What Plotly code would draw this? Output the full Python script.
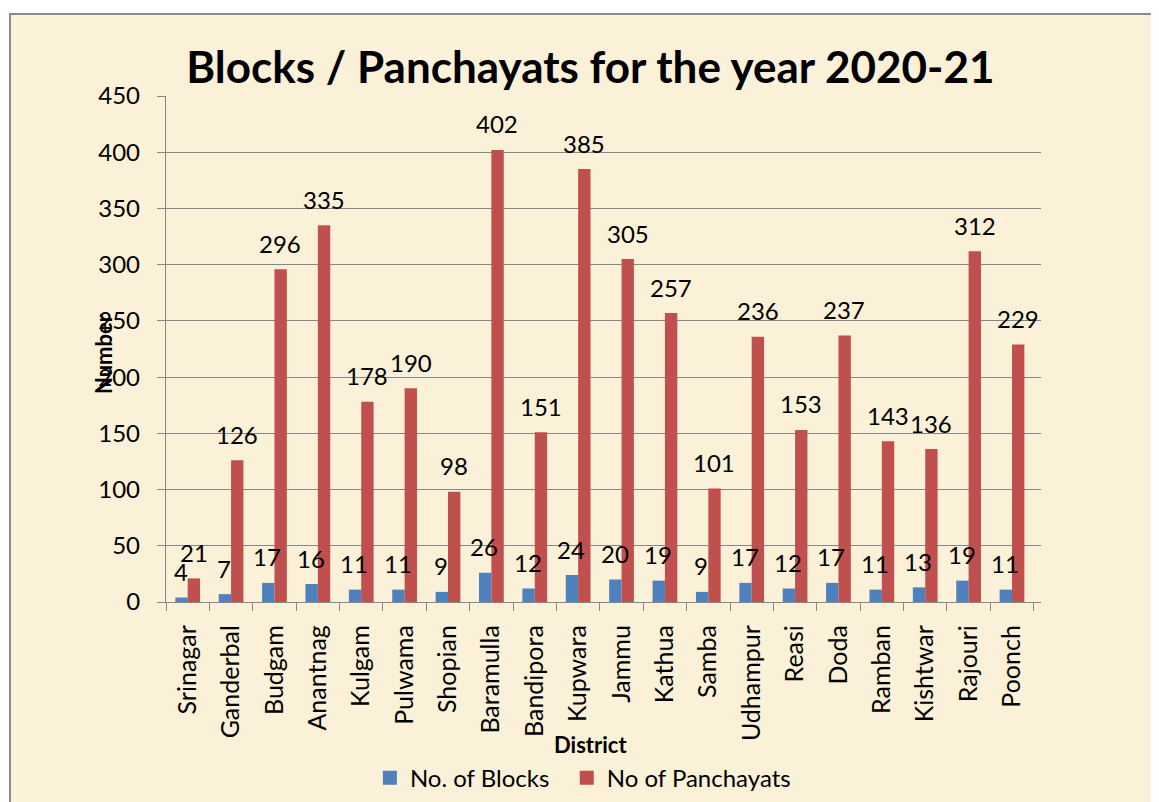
import plotly.graph_objects as go

districts = ["Srinagar", "Ganderbal", "Budgam", "Anantnag", "Kulgam", "Pulwama", "Shopian",
             "Baramulla", "Bandipora", "Kupwara", "Jammu", "Kathua", "Samba", "Udhampur",
             "Reasi", "Doda", "Ramban", "Kishtwar", "Rajouri", "Poonch"]
blocks = [4, 7, 17, 16, 11, 11, 9, 26, 12, 24, 20, 19, 9, 17, 12, 17, 11, 13, 19, 11]
panchayats = [21, 126, 296, 335, 178, 190, 98, 402, 151, 385, 305, 257, 101, 236, 153, 237, 143, 136, 312, 229]
y_ticks = [0, 50, 100, 150, 200, 250, 300, 350, 400, 450]

FONT = "Lato"
BG = "#FBF0D8"
GRID = "#878787"
BLUE = "#4F81BD"
RED = "#C0504D"

fig = go.Figure()
fig.add_trace(go.Bar(x=districts, y=blocks, name="No. of Blocks", marker_color=BLUE,
                     marker_line_width=0, showlegend=False))
fig.add_trace(go.Bar(x=districts, y=panchayats, name="No of Panchayats", marker_color=RED,
                     marker_line_width=0, showlegend=False))
# legend-only entries with square swatches
fig.add_trace(go.Scatter(x=[None], y=[None], mode="markers", name="No. of Blocks",
                         marker=dict(symbol="square", size=14, color=BLUE), legend="legend"))
fig.add_trace(go.Scatter(x=[None], y=[None], mode="markers", name="No of Panchayats",
                         marker=dict(symbol="square", size=14, color=RED), legend="legend2"))

annotations = []
for d, b, p in zip(districts, blocks, panchayats):
    annotations.append(dict(x=d, y=b, text=str(b), showarrow=False, xshift=-7, yshift=26,
                            font=dict(family=FONT, size=24, color="black")))
    annotations.append(dict(x=d, y=p, text=str(p), showarrow=False, xshift=6, yshift=26,
                            font=dict(family=FONT, size=24, color="black")))

annotations.append(dict(x=-0.072, y=0.49, xref="paper", yref="paper", text="<b>Number</b>",
                        textangle=-90, showarrow=False, xanchor="center", yanchor="middle",
                        font=dict(family=FONT, size=22, color="black")))
annotations.append(dict(x=0.485, y=-0.281, xref="paper", yref="paper", text="<b>District</b>",
                        showarrow=False, xanchor="center", yanchor="middle",
                        font=dict(family=FONT, size=22, color="black")))

legend_style = dict(orientation="h", xanchor="left", y=-0.348, yanchor="middle",
                    font=dict(family=FONT, size=24, color="black"), bgcolor="rgba(0,0,0,0)")

fig.update_layout(
    width=1151, height=794,
    margin=dict(l=158, r=118, t=88, b=200, autoexpand=False),
    paper_bgcolor="white",
    plot_bgcolor="rgba(0,0,0,0)",
    barmode="group", bargap=0.43, bargroupgap=0,
    title=dict(text="<b>Blocks / Panchayats for the year 2020-21</b>", x=0.506, xanchor="center",
               y=0.9244, yanchor="middle", font=dict(family=FONT, size=44, color="black")),
    font=dict(family=FONT, size=24, color="black"),
    legend=dict(x=0.233, **legend_style),
    legend2=dict(x=0.458, **legend_style),
    showlegend=True,
    annotations=annotations,
    shapes=[dict(type="rect", xref="paper", yref="paper", x0=-0.1783, x1=1.2, y0=-0.5, y1=1.162,
                 fillcolor=BG, line=dict(color="#8a8a8a", width=2), layer="below")],
)
fig.update_yaxes(range=[0, 450], tickvals=y_ticks, showgrid=True, gridcolor=GRID, gridwidth=1.3,
                 showline=True, linecolor=GRID, linewidth=1.3, ticks="outside", ticklen=8,
                 tickcolor=GRID, tickwidth=1.3, ticklabelstandoff=12, zeroline=False,
                 automargin=False,
                 tickfont=dict(family=FONT, size=24, color="black"))
fig.update_xaxes(showline=True, linecolor=GRID, linewidth=1.3, ticks="outside", ticklen=8,
                 tickcolor=GRID, tickwidth=1.3, tickson="boundaries", tickangle=-90,
                 ticklabelstandoff=12, automargin=False,
                 tickfont=dict(family=FONT, size=25, color="black"), showgrid=False)

fig.write_html("out.html")
